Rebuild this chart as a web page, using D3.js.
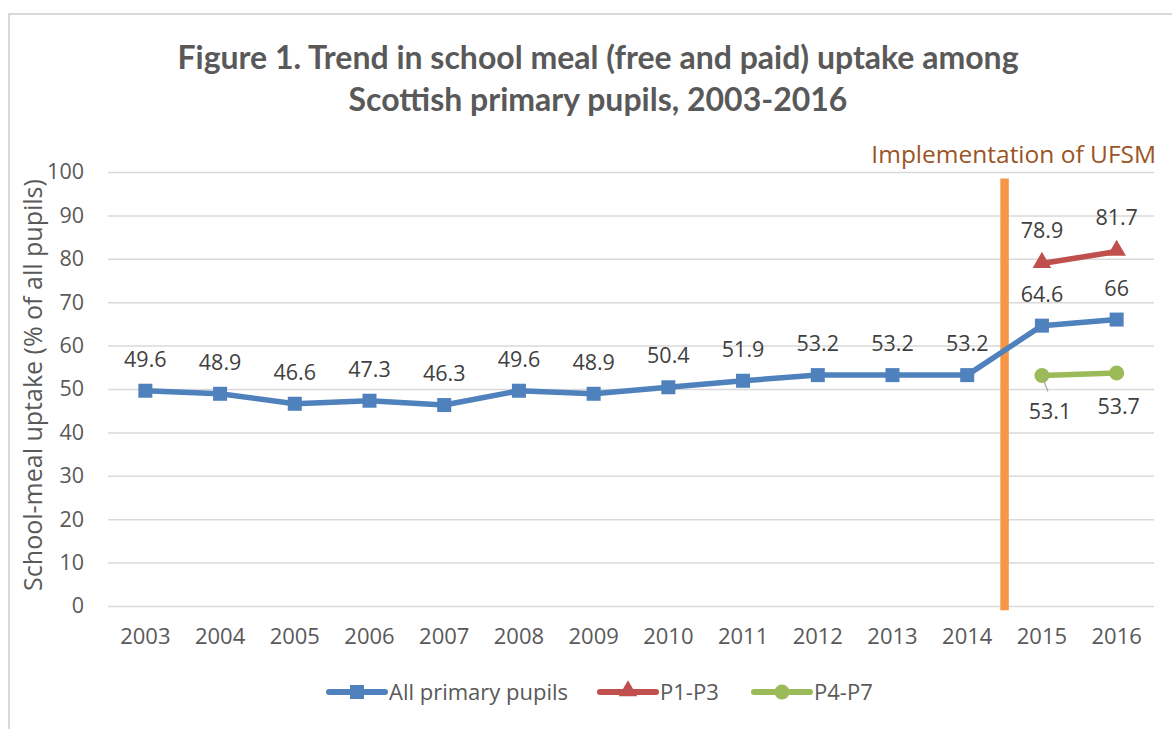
<!DOCTYPE html>
<html>
<head>
<meta charset="utf-8">
<script src="https://cdn.jsdelivr.net/npm/d3@7"></script>
<style>
  html, body { margin: 0; padding: 0; background: #fff; }
  svg { display: block; font-family: "Open Sans", sans-serif; }
</style>
</head>
<body>
<svg id="chart" width="1172" height="729"></svg>
<script>
// School meal uptake (% of all pupils), Scottish primary pupils
const years = ["2003","2004","2005","2006","2007","2008","2009","2010","2011","2012","2013","2014","2015","2016"];
const allPupils = [49.6, 48.9, 46.6, 47.3, 46.3, 49.6, 48.9, 50.4, 51.9, 53.2, 53.2, 53.2, 64.6, 66];
const p1p3Years = ["2015","2016"];
const p1p3 = [78.9, 81.7];
const p4p7Years = ["2015","2016"];
const p4p7 = [53.1, 53.7];
const yTicks = [0, 10, 20, 30, 40, 50, 60, 70, 80, 90, 100];

const svg = d3.select("#chart");
const margin = { left: 108, right: 1154, top: 172, bottom: 606 };
const textFont = "'Open Sans', sans-serif";

// chart frame
svg.append("path")
  .attr("d", "M9,729 V14 H1172")
  .attr("fill", "none").attr("stroke", "#d9d9d9").attr("stroke-width", 2);

// title
const title = svg.append("text")
  .attr("text-anchor", "middle")
  .attr("fill", "#595959")
  .attr("font-family", "Lato, sans-serif")
  .attr("font-weight", "bold")
  .attr("font-size", 32);
title.append("tspan").attr("x", 598).attr("y", 69).text("Figure 1. Trend in school meal (free and paid) uptake among");
title.append("tspan").attr("x", 598).attr("y", 111).text("Scottish primary pupils, 2003-2016");

const x = d3.scaleBand().domain(years).range([margin.left, margin.right]);
const y = d3.scaleLinear().domain([0, 100]).range([margin.bottom, margin.top]);
const cx = d => x(d) + x.bandwidth() / 2;

// gridlines + y labels
const yAxis = d3.axisLeft(y).tickValues(yTicks).tickSize(-(margin.right - margin.left)).tickPadding(24);
const gy = svg.append("g").attr("transform", `translate(${margin.left},0)`).call(yAxis);
gy.select(".domain").remove();
gy.selectAll(".tick line").attr("stroke", "#d9d9d9").attr("stroke-width", 1.5);
gy.selectAll(".tick text").attr("fill", "#595959").attr("font-size", 21.5).attr("font-family", textFont);

// x labels
const xAxis = d3.axisBottom(x).tickSize(0).tickPadding(22);
const gx = svg.append("g").attr("transform", `translate(0,${margin.bottom})`).call(xAxis);
gx.select(".domain").remove();
gx.selectAll(".tick text").attr("fill", "#595959").attr("font-size", 22).attr("font-family", textFont);

// y axis title
svg.append("text")
  .attr("transform", `translate(42,${(margin.top + margin.bottom) / 2 - 4}) rotate(-90)`)
  .attr("text-anchor", "middle")
  .attr("fill", "#595959")
  .attr("font-size", 25)
  .text("School-meal uptake (% of all pupils)");

// implementation marker between 2014 and 2015
const implX = (cx("2014") + cx("2015")) / 2;
svg.append("line")
  .attr("x1", implX).attr("x2", implX)
  .attr("y1", y(98.5)).attr("y2", y(-1))
  .attr("stroke", "#f79646").attr("stroke-width", 8.5);
svg.append("text")
  .attr("x", 1156).attr("y", 163)
  .attr("text-anchor", "end")
  .attr("fill", "#9a5526")
  .attr("font-size", 24.5)
  .text("Implementation of UFSM");

const line = d3.line().x(d => cx(d.year)).y(d => y(d.value));

function series(yrs, vals) { return yrs.map((yr, i) => ({ year: yr, value: vals[i] })); }

const allData = series(years, allPupils);
const p13Data = series(p1p3Years, p1p3);
const p47Data = series(p4p7Years, p4p7);

const blue = "#4f81bd", red = "#c0504d", green = "#9bbb59";

// All primary pupils
svg.append("path").datum(allData).attr("d", line)
  .attr("fill", "none").attr("stroke", blue).attr("stroke-width", 5.5).attr("stroke-linejoin", "round");
svg.selectAll(".sq").data(allData).join("rect")
  .attr("x", d => cx(d.year) - 7).attr("y", d => y(d.value) - 7)
  .attr("width", 14).attr("height", 14).attr("fill", blue);

// P1-P3
svg.append("path").datum(p13Data).attr("d", line)
  .attr("fill", "none").attr("stroke", red).attr("stroke-width", 5.5);
const tri = d3.symbol().type(d3.symbolTriangle).size(150);
svg.selectAll(".tri").data(p13Data).join("path")
  .attr("d", tri)
  .attr("transform", d => `translate(${cx(d.year)},${y(d.value) - 1})`)
  .attr("fill", red);

// P4-P7
svg.append("path").datum(p47Data).attr("d", line)
  .attr("fill", "none").attr("stroke", green).attr("stroke-width", 5.5);
svg.selectAll(".dot").data(p47Data).join("circle")
  .attr("cx", d => cx(d.year)).attr("cy", d => y(d.value)).attr("r", 7.5)
  .attr("fill", green);

// data labels
const labelStyle = sel => sel.attr("text-anchor", "middle").attr("fill", "#404040").attr("font-size", 21.5);
svg.selectAll(".lab-all").data(allData).join("text").call(labelStyle)
  .attr("x", d => cx(d.year)).attr("y", d => y(d.value) - 24)
  .text(d => d.value);
svg.selectAll(".lab-13").data(p13Data).join("text").call(labelStyle)
  .attr("x", d => cx(d.year)).attr("y", d => y(d.value) - 26)
  .text(d => d.value);

// P4-P7 labels sit below; the first one has a short leader line
svg.append("line")
  .attr("x1", cx("2015") + 1).attr("y1", y(p4p7[0]) + 3)
  .attr("x2", cx("2015") + 6).attr("y2", y(p4p7[0]) + 16)
  .attr("stroke", "#a6a6a6").attr("stroke-width", 1.2);
svg.selectAll(".lab-47").data(p47Data).join("text").call(labelStyle)
  .attr("x", (d, i) => cx(d.year) + (i === 0 ? 8 : 2))
  .attr("y", (d, i) => y(d.value) + (i === 0 ? 43 : 41))
  .text(d => d.value);

// legend
const legend = [
  { name: "All primary pupils", color: blue, shape: "square", x: 327 },
  { name: "P1-P3", color: red, shape: "triangle", x: 598 },
  { name: "P4-P7", color: green, shape: "circle", x: 752 }
];
const ly = 692;
legend.forEach(l => {
  const g = svg.append("g").attr("transform", `translate(${l.x},${ly})`);
  g.append("line").attr("x1", 2).attr("x2", 58).attr("y1", 0).attr("y2", 0)
    .attr("stroke", l.color).attr("stroke-width", 6).attr("stroke-linecap", "round");
  if (l.shape === "square") g.append("rect").attr("x", 23).attr("y", -7).attr("width", 14).attr("height", 14).attr("fill", l.color);
  if (l.shape === "triangle") g.append("path").attr("d", tri).attr("transform", "translate(30,-1)").attr("fill", l.color);
  if (l.shape === "circle") g.append("circle").attr("cx", 30).attr("cy", 0).attr("r", 7.5).attr("fill", l.color);
  g.append("text").attr("x", 62).attr("y", 8).attr("fill", "#595959").attr("font-size", 22).text(l.name);
});
</script>
</body>
</html>
